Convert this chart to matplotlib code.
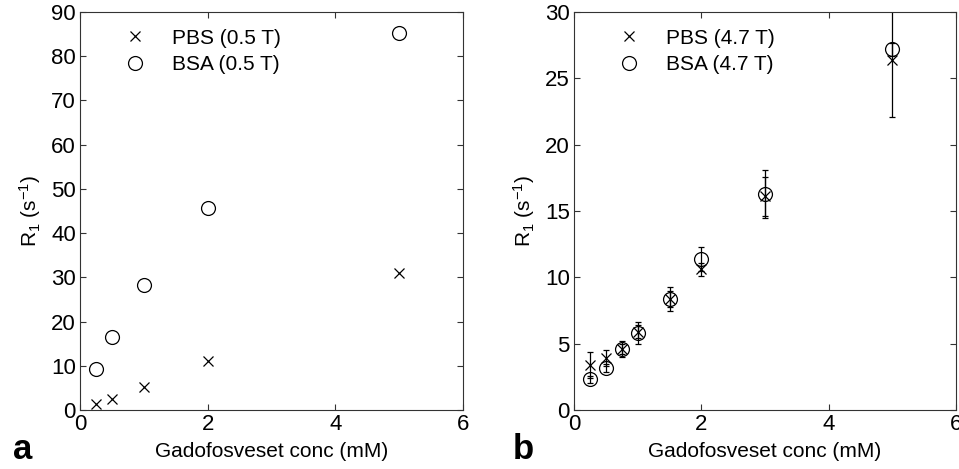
import matplotlib
matplotlib.use("Agg")
import matplotlib.pyplot as plt
from matplotlib.lines import Line2D

plt.rcParams["font.family"] = ["Liberation Sans", "DejaVu Sans"]
plt.rcParams["mathtext.default"] = "regular"

# panel a: 0.5 T
conc_a = [0.25, 0.5, 1, 2, 5]
pbs_a = [1.3, 2.6, 5.2, 11.1, 30.9]
bsa_a = [9.2, 16.6, 28.3, 45.7, 85.2]

# panel b: 4.7 T
conc_b = [0.25, 0.5, 0.75, 1, 1.5, 2, 3, 5]
pbs_b = [3.4, 3.9, 4.6, 5.9, 8.4, 10.6, 16.1, 26.4]
pbs_b_err = [1.0, 0.6, 0.4, 0.5, 0.6, 0.5, 1.5, 4.3]
bsa_b = [2.3, 3.2, 4.6, 5.8, 8.4, 11.4, 16.3, 27.2]
bsa_b_err = [0.3, 0.3, 0.6, 0.8, 0.9, 0.9, 1.8, 0.5]

fig = plt.figure(figsize=(9.59, 4.69), dpi=100)
W, H = 959, 469
ax_a = fig.add_axes([80 / W, 1 - 410 / H, 383 / W, 398 / H])
ax_b = fig.add_axes([574 / W, 1 - 410 / H, 382 / W, 398 / H])

FS = 16
mk_x = dict(marker="x", ms=7, mew=0.9, color="k", ls="none")
mk_o = dict(marker="o", ms=10, mew=0.9, mfc="none", mec="k", ls="none")

ax_a.plot(conc_a, pbs_a, **mk_x)
ax_a.plot(conc_a, bsa_a, **mk_o)
ax_a.set_ylim(0, 90)
ax_a.set_yticks(range(0, 91, 10))

ax_b.errorbar(conc_b, pbs_b, yerr=pbs_b_err, capsize=2.5, elinewidth=0.9,
              capthick=0.9, ecolor="k", **mk_x)
ax_b.errorbar(conc_b, bsa_b, yerr=bsa_b_err, capsize=2.5, elinewidth=0.9,
              capthick=0.9, ecolor="k", **mk_o)
ax_b.set_ylim(0, 30)
ax_b.set_yticks(range(0, 31, 5))

for ax, field in [(ax_a, "0.5 T"), (ax_b, "4.7 T")]:
    ax.set_xlim(0, 6)
    ax.set_xticks([0, 2, 4, 6])
    ax.tick_params(direction="in", top=True, right=True, labelsize=FS,
                   length=4, width=0.8, color="#333333", pad=3)
    for s in ax.spines.values():
        s.set_color("#333333")
        s.set_linewidth(0.8)
    ax.set_xlabel("Gadofosveset conc (mM)", fontsize=15, labelpad=5)
    ax.set_ylabel("R$_1$ (s$^{-1}$)", fontsize=15, labelpad=6)
    handles = [Line2D([], [], **mk_x), Line2D([], [], **mk_o)]
    ax.legend(handles, [f"PBS ({field})", f"BSA ({field})"],
              loc="upper left", bbox_to_anchor=(0.04, 1.005),
              frameon=False, fontsize=15, handletextpad=0.8,
              labelspacing=0.35, numpoints=1)

fig.text(13 / W, 1 - 449 / H, "a", fontsize=25, fontweight="bold",
         va="center", ha="left")
fig.text(513 / W, 1 - 449 / H, "b", fontsize=25, fontweight="bold",
         va="center", ha="left")

fig.savefig("out.png", dpi=100)
